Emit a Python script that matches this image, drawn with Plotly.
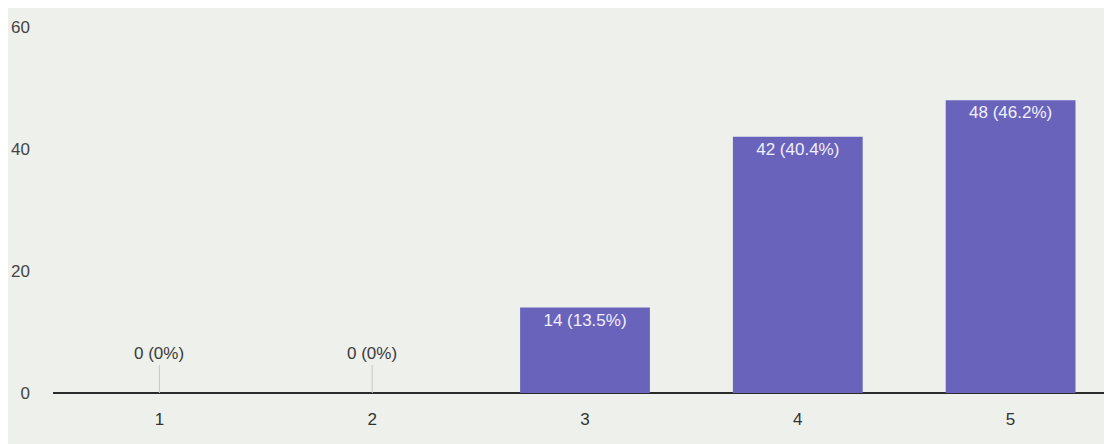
import plotly.graph_objects as go

categories = ["1", "2", "3", "4", "5"]
counts = [0, 0, 14, 42, 48]
y_ticks = [0, 20, 40, 60]

total = sum(counts)
labels = []
for c in counts:
    p = c / total * 100
    labels.append(f"{c} ({p:.0f}%)" if c == 0 else f"{c} ({p:.1f}%)")

inside_text = [l if c > 0 else "" for l, c in zip(labels, counts)]

fig = go.Figure()
fig.add_trace(go.Bar(
    x=categories, y=counts,
    marker=dict(color="#6a63bb", line=dict(width=0)),
    text=inside_text, textposition="inside", insidetextanchor="end",
    textfont=dict(color="#f0f0ff", size=17, family="Liberation Sans"),
    textangle=0, cliponaxis=False,
))

for i, (c, l) in enumerate(zip(counts, labels)):
    if c == 0:
        fig.add_annotation(x=i, y=c, text=l, showarrow=True, arrowhead=0,
                           arrowwidth=1, arrowcolor="#c8c8c4", ax=0, ay=-28,
                           font=dict(color="#3a3a3a", size=17, family="Liberation Sans"),
                           yanchor="bottom", standoff=0)

fig.update_layout(
    width=1112, height=444,
    margin=dict(l=42, r=3, t=19, b=59),
    paper_bgcolor="#eef0ec", plot_bgcolor="#eef0ec",
    bargap=0.39, showlegend=False,
    font=dict(family="Liberation Sans", color="#444444", size=17),
)
fig.update_xaxes(type="category", showgrid=False, showline=False, zeroline=False,
                 ticks="", tickfont=dict(size=17, color="#333333"),
                 ticklabelstandoff=14)
fig.update_yaxes(range=[0, 60], tickvals=y_ticks, showgrid=False,
                 zeroline=True, zerolinecolor="#2a2a2a", zerolinewidth=2,
                 showline=False, ticks="", tickfont=dict(size=17, color="#444444"),
                 ticklabelstandoff=22)

fig.write_html("out.html")
